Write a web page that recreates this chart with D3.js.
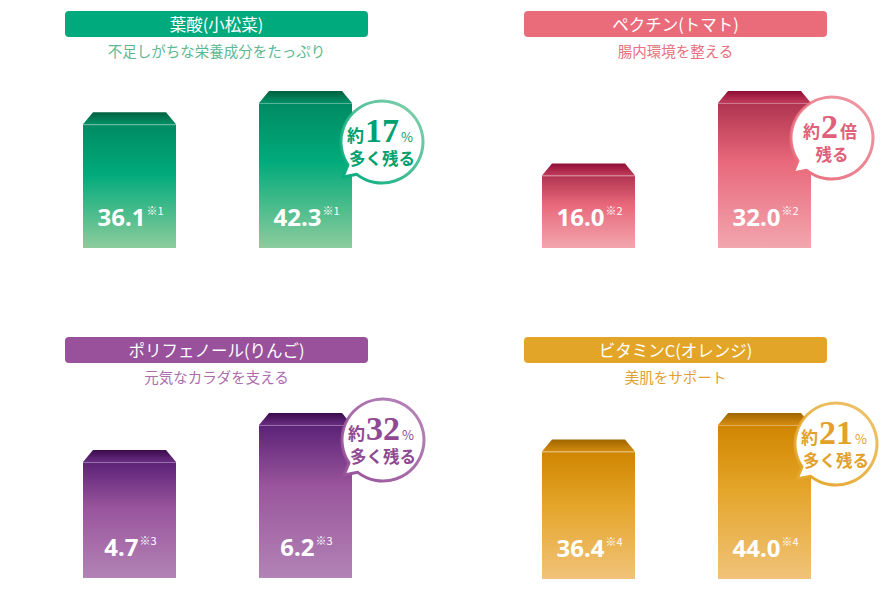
<!DOCTYPE html>
<html>
<head>
<meta charset="utf-8">
<script src="https://cdn.jsdelivr.net/npm/d3@7"></script>
<style>
  body { margin: 0; background: #fff; }
  svg { display: block; }
</style>
</head>
<body>
<script>
// data
var nutrients = ["葉酸(小松菜)", "ペクチン(トマト)", "ポリフェノール(りんご)", "ビタミンC(オレンジ)"];
var subtitles = ["不足しがちな栄養成分をたっぷり", "腸内環境を整える", "元気なカラダを支える", "美肌をサポート"];
var beforeValues = [36.1, 16.0, 4.7, 36.4];
var afterValues = [42.3, 32.0, 6.2, 44.0];
var noteMarks = ["※1", "※2", "※3", "※4"];
var badgeNumbers = ["17", "2", "32", "21"];
var badgeUnits = ["%", "倍", "%", "%"];
var badgeLines = ["多く残る", "残る", "多く残る", "多く残る"];

// look of each panel
var themes = [
    { head: "#00aa7d", sub: "#5bb893", top: "#008a63", mid: "#00aa7b", bot: "#8dcc9c", cap1: "#00603f", cap2: "#009066", ring: "#5ec293", txt: "#00a06f" },
    { head: "#ea6c7b", sub: "#e8707f", top: "#b03350", mid: "#e8687a", bot: "#f2a6af", cap1: "#8e0d35", cap2: "#c23c5b", ring: "#e87a88", txt: "#e0607a" },
    { head: "#98519a", sub: "#ae6dae", top: "#5b2277", mid: "#9a559c", bot: "#b283b6", cap1: "#3a0c4c", cap2: "#6a2c82", ring: "#a060a4", txt: "#8e4a92" },
    { head: "#e3a527", sub: "#e0a130", top: "#d08500", mid: "#e3a426", bot: "#f1c37a", cap1: "#a06600", cap2: "#d48c10", ring: "#e8b040", txt: "#e2a12a" }
];
var panelPos = [
    { x: 65, y: 11, base: 248, maxH: 145, bx: 317, by: 131 },
    { x: 524, y: 11, base: 248, maxH: 145, bx: 308, by: 127 },
    { x: 65, y: 337, base: 578, maxH: 153, bx: 318, by: 103 },
    { x: 524, y: 337, base: 579, maxH: 154, bx: 312, by: 107 }
];

var width = 890, height = 610;
var headW = 303, headH = 26;
var barW = 93, capH = 12, capIn = 10;
var jpFont = "'Noto Sans CJK JP', 'Noto Sans', sans-serif";

var svg = d3.select("body").append("svg")
    .attr("width", width)
    .attr("height", height);
var defs = svg.append("defs");

nutrients.forEach(function(name, i) {
    var t = themes[i], p = panelPos[i];
    var g = svg.append("g").attr("transform", "translate(" + p.x + "," + p.y + ")");

    // gradients
    var fg = defs.append("linearGradient").attr("id", "face" + i)
        .attr("x1", 0).attr("y1", 0).attr("x2", 0).attr("y2", 1);
    fg.append("stop").attr("offset", "0%").attr("stop-color", t.top);
    fg.append("stop").attr("offset", "40%").attr("stop-color", t.mid);
    fg.append("stop").attr("offset", "100%").attr("stop-color", t.bot);
    var cg = defs.append("linearGradient").attr("id", "cap" + i)
        .attr("x1", 0).attr("y1", 0).attr("x2", 0).attr("y2", 1);
    cg.append("stop").attr("offset", "0%").attr("stop-color", t.cap1);
    cg.append("stop").attr("offset", "100%").attr("stop-color", t.cap2);
    var rg = defs.append("linearGradient").attr("id", "ring" + i)
        .attr("x1", 0).attr("y1", 1).attr("x2", 1).attr("y2", 0);
    rg.append("stop").attr("offset", "0%").attr("stop-color", t.head);
    rg.append("stop").attr("offset", "100%").attr("stop-color", t.ring).attr("stop-opacity", 0.75);

    // header
    g.append("rect")
        .attr("width", headW).attr("height", headH)
        .attr("rx", 4)
        .attr("fill", t.head);
    g.append("text")
        .attr("x", headW / 2).attr("y", 19.5)
        .attr("text-anchor", "middle")
        .attr("font-family", jpFont)
        .attr("font-size", 16.5)
        .attr("fill", "#fff")
        .text(name);
    g.append("text")
        .attr("x", headW / 2).attr("y", 46)
        .attr("text-anchor", "middle")
        .attr("font-family", jpFont)
        .attr("font-size", 14.5)
        .attr("fill", t.sub)
        .text(subtitles[i]);

    // bars
    var base = p.base - p.y;
    var vals = [beforeValues[i], afterValues[i]];
    var x = d3.scaleBand()
        .domain([0, 1])
        .range([18, 18 + barW + 176])
        .paddingInner((176 - barW) / 176)
        .paddingOuter(0);
    var y = d3.scaleLinear()
        .domain([0, d3.max(vals)])
        .range([base, base - p.maxH]);

    vals.forEach(function(v, k) {
        var bx = x(k), bw = x.bandwidth(), top = y(v);
        g.append("path")
            .attr("d", "M" + (bx + capIn) + "," + (top - capH) +
                "L" + (bx + bw - capIn) + "," + (top - capH) +
                "L" + (bx + bw) + "," + top +
                "L" + bx + "," + top + "Z")
            .attr("fill", "url(#cap" + i + ")");
        g.append("rect")
            .attr("x", bx).attr("y", top)
            .attr("width", bw).attr("height", y(0) - top)
            .attr("fill", "url(#face" + i + ")");
        g.append("line")
            .attr("x1", bx).attr("x2", bx + bw)
            .attr("y1", top + 0.5).attr("y2", top + 0.5)
            .attr("stroke", "#fff").attr("stroke-opacity", 0.35);

        var lab = g.append("text")
            .attr("x", bx + bw / 2 + 1)
            .attr("y", y(0) - 22)
            .attr("text-anchor", "middle")
            .attr("fill", "#fff")
            .attr("font-family", "'Noto Sans', sans-serif")
            .attr("font-weight", 700);
        lab.append("tspan").attr("font-size", 24).text(d3.format(".1f")(v));
        lab.append("tspan").attr("font-size", 11).attr("dy", -11).attr("dx", 1)
            .attr("font-family", jpFont).attr("font-weight", 400)
            .text(noteMarks[i]);
    });

    // speech bubble
    var cx = p.bx, cy = p.by, r = 41;
    var a0 = 146 * Math.PI / 180, a1 = 128 * Math.PI / 180;
    var path = d3.path();
    path.moveTo(cx - 39, cy + 35);
    path.lineTo(cx + r * Math.cos(a0), cy + r * Math.sin(a0));
    path.arc(cx, cy, r, a0, a1 + 2 * Math.PI, false);
    path.closePath();
    g.append("path")
        .attr("d", path.toString())
        .attr("fill", "#fff")
        .attr("stroke", "url(#ring" + i + ")")
        .attr("stroke-width", 3)
        .attr("stroke-linejoin", "round");

    var l1 = g.append("text")
        .attr("x", cx - 2).attr("y", cy)
        .attr("text-anchor", "middle")
        .attr("fill", t.txt);
    l1.append("tspan").attr("font-family", jpFont).attr("font-weight", 700)
        .attr("font-size", 17).text("約");
    l1.append("tspan").attr("font-family", "'Liberation Serif', 'DejaVu Serif', serif")
        .attr("font-weight", 700).attr("font-size", 34).attr("dx", 1)
        .text(badgeNumbers[i]);
    l1.append("tspan").attr("font-family", jpFont)
        .attr("font-size", badgeUnits[i] === "%" ? 13 : 17)
        .attr("font-weight", badgeUnits[i] === "%" ? 400 : 700)
        .attr("dx", 2)
        .text(badgeUnits[i]);

    g.append("text")
        .attr("x", cx).attr("y", cy + 23)
        .attr("text-anchor", "middle")
        .attr("fill", t.txt)
        .attr("font-family", jpFont)
        .attr("font-weight", 700)
        .attr("font-size", 16.5)
        .text(badgeLines[i]);
});
</script>
</body>
</html>
